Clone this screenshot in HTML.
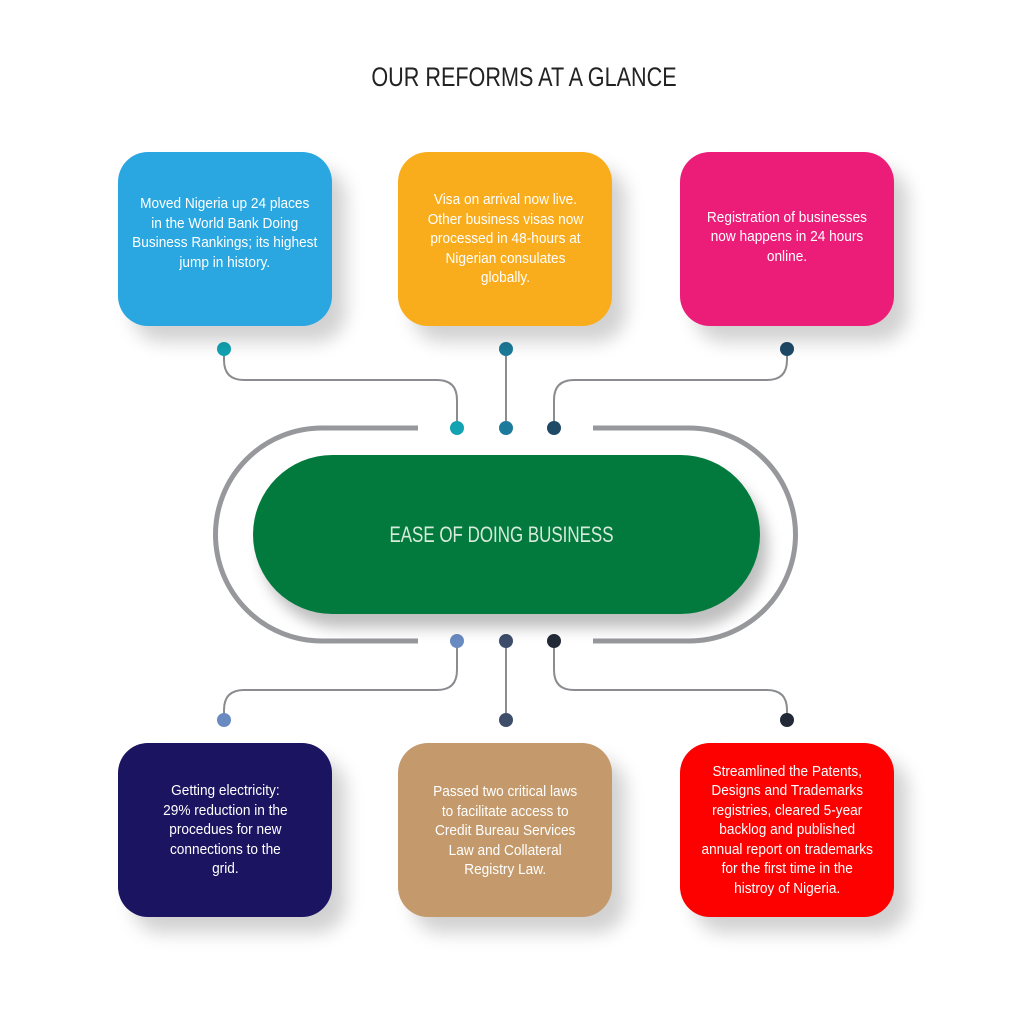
<!DOCTYPE html>
<html><head><meta charset="utf-8"><style>
body{margin:0;background:#fff;}
.wrap{position:relative;width:1024px;height:1024px;overflow:hidden;background:#fff;font-family:"Liberation Sans Narrow","Liberation Sans",sans-serif;}
.box{position:absolute;width:214px;height:174px;border-radius:30px;display:flex;align-items:center;justify-content:center;text-align:center;color:#fff;font-size:15px;line-height:19.5px;box-shadow:14px 16px 18px rgba(0,0,0,0.18);box-sizing:border-box;}
.box span{display:block;margin-top:-12px;white-space:nowrap;transform:scaleX(0.91);}
.title{position:absolute;top:62px;left:0;width:1048px;text-align:center;font-size:27px;color:#222;transform:scaleX(0.8);transform-origin:524px 0;}
.pill{position:absolute;left:253px;top:455px;width:507px;height:159px;border-radius:80px;background:#037a3d;box-shadow:8px 14px 14px rgba(0,0,0,0.25);color:#d8eadc;font-size:22px;display:flex;align-items:center;justify-content:center;}
.pill span{transform:scaleX(0.77);display:block;white-space:nowrap;margin-left:-10px}
</style></head><body><div class="wrap">
<div class="title">OUR REFORMS AT A GLANCE</div>
<svg width="1024" height="1024" style="position:absolute;left:0;top:0">
<g fill="none" stroke="#97989b" stroke-width="5">
<path d="M418 428 H322 A106 106 0 0 0 322 641 H418"/>
<path d="M593 428 H689 A106 106 0 0 1 689 641 H593"/>
</g>
<g fill="none" stroke="#8a8c8f" stroke-width="2">
<path d="M224 349 V360 Q224 380 244 380 H437 Q457 380 457 400 V428"/>
<path d="M506 349 V428"/>
<path d="M787 349 V360 Q787 380 767 380 H574 Q554 380 554 400 V428"/>
<path d="M457 641 V670 Q457 690 437 690 H244 Q224 690 224 710 V720"/>
<path d="M506 641 V720"/>
<path d="M554 641 V670 Q554 690 574 690 H767 Q787 690 787 710 V720"/>
</g>
<circle cx="224" cy="349" r="7" fill="#12a3b3"/>
<circle cx="506" cy="349" r="7" fill="#1c7b9b"/>
<circle cx="787" cy="349" r="7" fill="#1e4a68"/>
<circle cx="457" cy="428" r="7" fill="#12a3b3"/>
<circle cx="506" cy="428" r="7" fill="#1c7b9b"/>
<circle cx="554" cy="428" r="7" fill="#1e4a68"/>
<circle cx="457" cy="641" r="7" fill="#6a8bc2"/>
<circle cx="506" cy="641" r="7" fill="#3d4d6a"/>
<circle cx="554" cy="641" r="7" fill="#222a38"/>
<circle cx="224" cy="720" r="7" fill="#6a8bc2"/>
<circle cx="506" cy="720" r="7" fill="#3d4d6a"/>
<circle cx="787" cy="720" r="7" fill="#222a38"/>
</svg>
<div class="pill"><span>EASE OF DOING BUSINESS</span></div>
<div class="box" style="left:118px;top:152px;background:#2aa7e0"><span>Moved Nigeria up 24 places<br>in the World Bank Doing<br>Business Rankings; its highest<br>jump in history.</span></div>
<div class="box" style="left:398px;top:152px;background:#f9ad1d"><span style="margin-top:0">Visa on arrival now live.<br>Other business visas now<br>processed in 48-hours at<br>Nigerian consulates<br>globally.</span></div>
<div class="box" style="left:680px;top:152px;background:#ec1d79"><span style="margin-top:-4px">Registration of businesses<br>now happens in 24 hours<br>online.</span></div>
<div class="box" style="left:118px;top:743px;background:#1b1460"><span style="margin-top:0">Getting electricity:<br>29% reduction in the<br>procedues for new<br>connections to the<br>grid.</span></div>
<div class="box" style="left:398px;top:743px;background:#c49a6c"><span style="margin-top:2px">Passed two critical laws<br>to facilitate access to<br>Credit Bureau Services<br>Law and Collateral<br>Registry Law.</span></div>
<div class="box" style="left:680px;top:743px;background:#fd0000"><span style="margin-top:0">Streamlined the Patents,<br>Designs and Trademarks<br>registries, cleared 5-year<br>backlog and published<br>annual report on trademarks<br>for the first time in the<br>histroy of Nigeria.</span></div>
</div></body></html>
